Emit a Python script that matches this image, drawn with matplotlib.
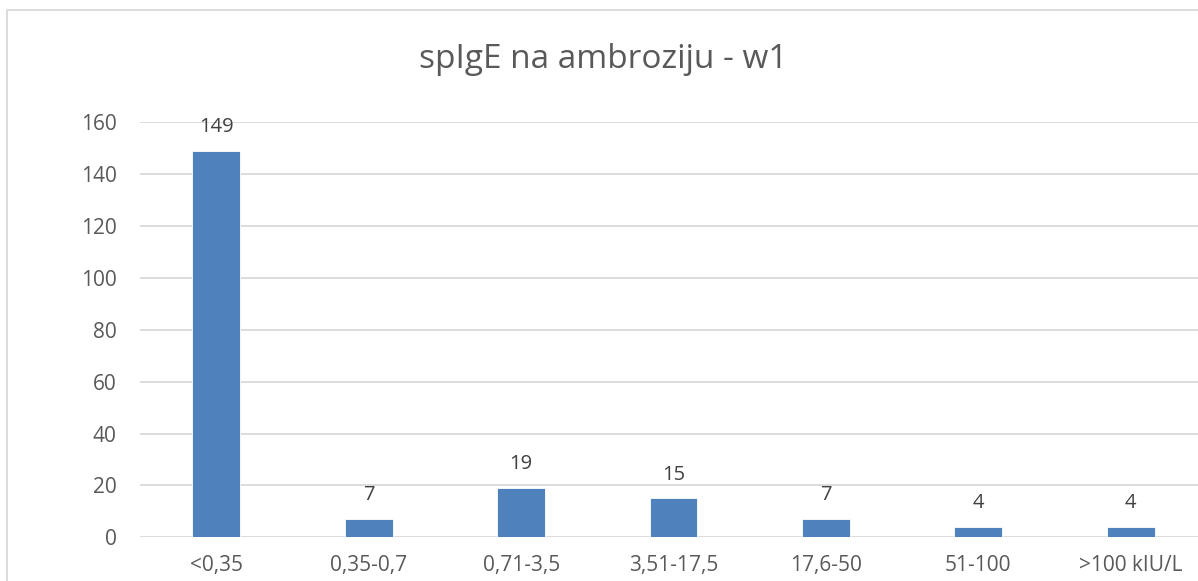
import matplotlib
matplotlib.use('Agg')
import matplotlib.pyplot as plt
from matplotlib.lines import Line2D

categories = ['<0,35', '0,35-0,7', '0,71-3,5', '3,51-17,5', '17,6-50', '51-100', '>100 kIU/L']
counts = [149, 7, 19, 15, 7, 4, 4]
yticks = [0, 20, 40, 60, 80, 100, 120, 140, 160]

W, H = 1198, 581
plt.rcParams['font.family'] = ['Open Sans', 'DejaVu Sans']
txt = '#595959'

fig = plt.figure(figsize=(W / 100, H / 100), dpi=100)
# plot area runs a bit past the right edge like in the cropped screenshot
ax = fig.add_axes([140.3 / W, 43.7 / H, 1066.4 / W, 415 / H])

x = list(range(len(categories)))
bars = ax.bar(x, counts, width=0.315, color='#4F81BD', edgecolor='white', linewidth=0.6, zorder=3)
for xi, v in zip(x, counts):
    ax.annotate(str(v), (xi, v), xytext=(0, 10), textcoords='offset points',
                ha='center', va='bottom', fontsize=14.5, color='#404040')

ax.set_xlim(-0.5, len(categories) - 0.5)
ax.set_ylim(0, 160)
ax.set_yticks(yticks)
ax.set_xticks(x)
ax.set_xticklabels(categories)
ax.grid(axis='y', color='#D9D9D9', linewidth=1.3, zorder=0)
for s in ax.spines.values():
    s.set_visible(False)
ax.tick_params(axis='both', length=0, labelsize=15, colors=txt)
ax.tick_params(axis='x', pad=13)
ax.tick_params(axis='y', pad=17)

fig.text(603 / W, 1 - 60 / H, 'spIgE na ambroziju - w1', ha='center', va='center',
         fontsize=24, color=txt)

# chart border
bx, by = 7 / W, 1 - 10 / H
fig.add_artist(Line2D([bx, bx, 1.01], [-0.01, by, by], color='#D9D9D9', linewidth=1.3))

fig.savefig('out.png', dpi=100)
